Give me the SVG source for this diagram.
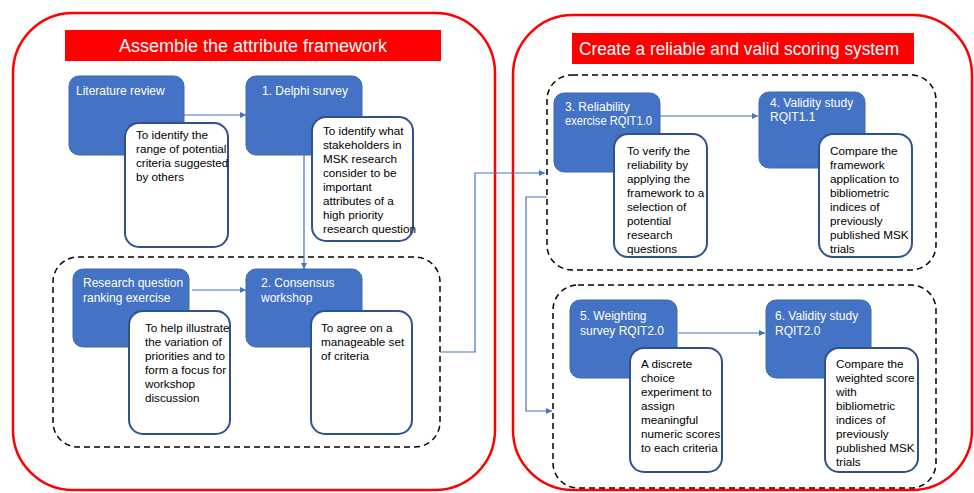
<svg xmlns="http://www.w3.org/2000/svg" width="974" height="493" viewBox="0 0 974 493">
<defs>
<marker id="arr" viewBox="0 0 10 10" refX="10" refY="5" markerWidth="6" markerHeight="6" markerUnits="userSpaceOnUse" orient="auto">
<path d="M0,0 L10,5 L0,10 z" fill="#4472C4"/>
</marker>
</defs>
<style>
.outer{fill:none;stroke:#FF0000;stroke-width:2.5}
.bar{fill:#FF0000}
.bartxt{font-family:"Liberation Sans",Arial,sans-serif;font-size:18px;fill:#ffffff}
.dash{fill:none;stroke:#000;stroke-width:1.5;stroke-dasharray:6 4}
.blue{fill:#4472C4;stroke:#3F69B5;stroke-width:1}
.btxt{font-family:"Liberation Sans",Arial,sans-serif;font-size:12px;fill:#ffffff}
.note{fill:#ffffff;stroke:#2F528F;stroke-width:2}
.ntxt{font-family:"Liberation Sans",Arial,sans-serif;font-size:11.7px;fill:#000}
.conn{fill:none;stroke:#4472C4;stroke-width:1.2}
</style>
<rect width="974" height="493" fill="#ffffff"/>
<g id="left-panel">
<rect class="outer" x="13" y="13" width="482" height="477" rx="60"/>
<rect class="bar" x="65" y="30" width="376" height="31"/>
<text class="bartxt" x="253" y="52" text-anchor="middle">Assemble the attribute framework</text>
</g>
<g id="right-panel">
<rect class="outer" x="513" y="15" width="459" height="475" rx="60"/>
<rect class="bar" x="572" y="33" width="342" height="31"/>
<text class="bartxt" x="579" y="55" textLength="320" lengthAdjust="spacingAndGlyphs">Create a reliable and valid scoring system</text>
</g>
<g id="group-consensus">
<rect class="dash" x="53" y="257" width="387" height="190" rx="25"/>
</g>
<g id="group-reliability">
<rect class="dash" x="547" y="75" width="389" height="195" rx="25"/>
</g>
<g id="group-weighting">
<rect class="dash" x="553" y="285" width="383" height="203" rx="25"/>
</g>
<g id="connectors">
<line class="conn" x1="184" y1="115" x2="246" y2="115" marker-end="url(#arr)"/>
<line class="conn" x1="304" y1="155" x2="304" y2="269" marker-end="url(#arr)"/>
<line class="conn" x1="192" y1="290" x2="246" y2="290" marker-end="url(#arr)"/>
<polyline class="conn" points="440,352 475,352 475,173 545,173" marker-end="url(#arr)"/>
<polyline class="conn" points="547,197 526,197 526,411 552,411" marker-end="url(#arr)"/>
<line class="conn" x1="660" y1="116" x2="758" y2="116" marker-end="url(#arr)"/>
<line class="conn" x1="678" y1="333" x2="765" y2="333" marker-end="url(#arr)"/>
</g>
<g id="literature-review">
<rect class="blue" x="69" y="76" width="115" height="79" rx="10"/>
<text class="btxt" x="76" y="95">Literature review</text>
<rect class="note" x="125" y="123" width="103" height="124" rx="14"/>
<text class="ntxt" x="136" y="139"><tspan x="136">To identify the</tspan><tspan x="136" dy="14">range of potential</tspan><tspan x="136" dy="14">criteria suggested</tspan><tspan x="136" dy="14">by others</tspan></text>
</g>
<g id="delphi-survey">
<rect class="blue" x="246" y="76" width="116" height="79" rx="10"/>
<text class="btxt" x="262" y="95">1. Delphi survey</text>
<rect class="note" x="312" y="117" width="101" height="124" rx="14"/>
<text class="ntxt" x="323" y="135"><tspan x="323">To identify what</tspan><tspan x="323" dy="14">stakeholders in</tspan><tspan x="323" dy="14">MSK research</tspan><tspan x="323" dy="14">consider to be</tspan><tspan x="323" dy="14">important</tspan><tspan x="323" dy="14">attributes of a</tspan><tspan x="323" dy="14">high priority</tspan><tspan x="323" dy="14">research question</tspan></text>
</g>
<g id="ranking-exercise">
<rect class="blue" x="73" y="269" width="116" height="78" rx="10"/>
<text class="btxt" x="83" y="287"><tspan x="83">Research question</tspan><tspan x="83" dy="15">ranking  exercise</tspan></text>
<rect class="note" x="129" y="311" width="101" height="123" rx="14"/>
<text class="ntxt" x="145" y="332"><tspan x="145">To help illustrate</tspan><tspan x="145" dy="14">the variation of</tspan><tspan x="145" dy="14">priorities and to</tspan><tspan x="145" dy="14">form a  focus for</tspan><tspan x="145" dy="14">workshop</tspan><tspan x="145" dy="14">discussion</tspan></text>
</g>
<g id="consensus-workshop">
<rect class="blue" x="246" y="269" width="116" height="78" rx="10"/>
<text class="btxt" x="261" y="287"><tspan x="261">2. Consensus</tspan><tspan x="261" dy="15">workshop</tspan></text>
<rect class="note" x="311" y="311" width="101" height="123" rx="14"/>
<text class="ntxt" x="321" y="332"><tspan x="321">To agree on a</tspan><tspan x="321" dy="14">manageable set</tspan><tspan x="321" dy="14">of criteria</tspan></text>
</g>
<g id="reliability-exercise">
<rect class="blue" x="554" y="93" width="106" height="79" rx="10"/>
<text class="btxt" x="565" y="111">3. Reliability</text>
<text class="btxt" x="565" y="125" textLength="87" lengthAdjust="spacingAndGlyphs">exercise RQIT1.0</text>
<rect class="note" x="614" y="134" width="93" height="123" rx="14"/>
<text class="ntxt" x="627" y="155"><tspan x="627">To verify the</tspan><tspan x="627" dy="14">reliability by</tspan><tspan x="627" dy="14">applying the</tspan><tspan x="627" dy="14">framework to a</tspan><tspan x="627" dy="14">selection of</tspan><tspan x="627" dy="14">potential</tspan><tspan x="627" dy="14">research</tspan><tspan x="627" dy="14">questions</tspan></text>
</g>
<g id="validity-study-1">
<rect class="blue" x="759" y="92" width="106" height="76" rx="10"/>
<text class="btxt" x="770" y="107"><tspan x="770">4. Validity study</tspan><tspan x="770" dy="14">RQIT1.1</tspan></text>
<rect class="note" x="819" y="134" width="93" height="123" rx="14"/>
<text class="ntxt" x="830" y="155"><tspan x="830">Compare the</tspan><tspan x="830" dy="14">framework</tspan><tspan x="830" dy="14">application  to</tspan><tspan x="830" dy="14">bibliometric</tspan><tspan x="830" dy="14">indices of</tspan><tspan x="830" dy="14">previously</tspan><tspan x="830" dy="14">published MSK</tspan><tspan x="830" dy="14">trials</tspan></text>
</g>
<g id="weighting-survey">
<rect class="blue" x="570" y="300" width="107" height="78" rx="10"/>
<text class="btxt" x="580" y="320"><tspan x="580">5. Weighting</tspan><tspan x="580" dy="15">survey RQIT2.0</tspan></text>
<rect class="note" x="630" y="348" width="92" height="124" rx="14"/>
<text class="ntxt" x="641" y="368"><tspan x="641">A discrete</tspan><tspan x="641" dy="14">choice</tspan><tspan x="641" dy="14">experiment to</tspan><tspan x="641" dy="14">assign</tspan><tspan x="641" dy="14">meaningful</tspan><tspan x="641" dy="14">numeric scores</tspan><tspan x="641" dy="14">to each criteria</tspan></text>
</g>
<g id="validity-study-2">
<rect class="blue" x="766" y="300" width="105" height="78" rx="10"/>
<text class="btxt" x="775" y="320"><tspan x="775">6. Validity study</tspan><tspan x="775" dy="15">RQIT2.0</tspan></text>
<rect class="note" x="825" y="348" width="93" height="124" rx="14"/>
<text class="ntxt" x="836" y="368"><tspan x="836">Compare the</tspan><tspan x="836" dy="14">weighted score</tspan><tspan x="836" dy="14">with</tspan><tspan x="836" dy="14">bibliometric</tspan><tspan x="836" dy="14">indices of</tspan><tspan x="836" dy="14">previously</tspan><tspan x="836" dy="14">published MSK</tspan><tspan x="836" dy="14">trials</tspan></text>
</g>
</svg>
